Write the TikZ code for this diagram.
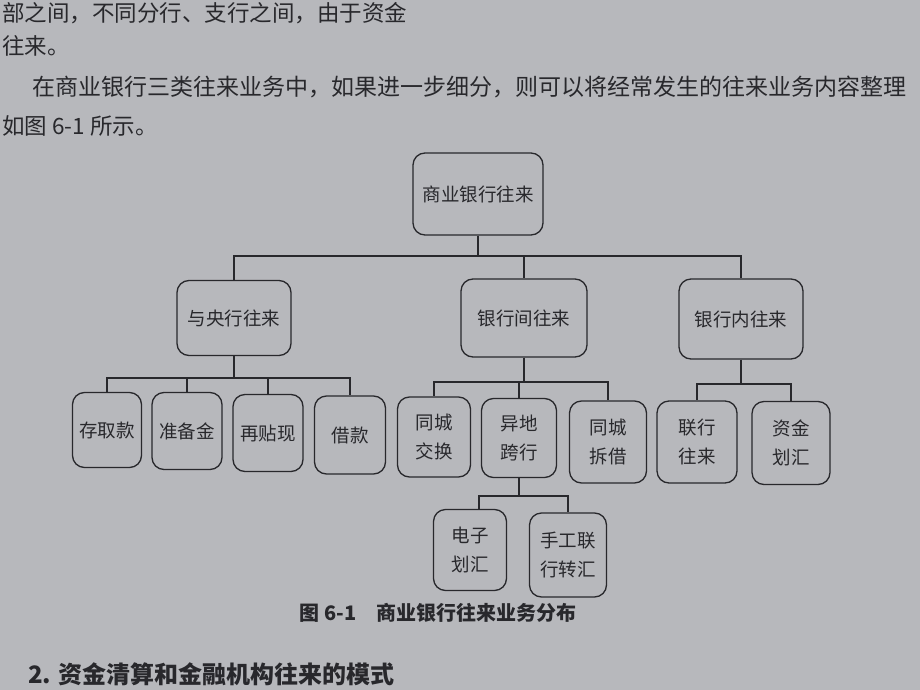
\documentclass[tikz,border=0pt]{standalone}
\usepackage{fontspec}
\setmainfont{Noto Sans CJK SC}
\usetikzlibrary{calc}
\definecolor{papier}{RGB}{183,184,188}
\definecolor{encre}{RGB}{40,40,44}
\tikzstyle{boite} = [rectangle, rounded corners=12pt, draw=encre, line width=1.3pt, text=encre, align=center, inner sep=0pt, font=\fontsize{18.5}{29}\selectfont]
\tikzstyle{moyen} = [boite, minimum width=122pt, minimum height=78pt]
\tikzstyle{petit} = [boite, minimum width=73pt, minimum height=79pt]
\tikzstyle{lien} = [draw=encre, line width=1.3pt]
\tikzstyle{texte} = [anchor=west, text=encre, inner sep=0pt, font=\fontsize{22.5}{22.5}\selectfont]

\begin{document}
\begin{tikzpicture}[x=1pt, y=-1pt]

        \clip (0,0) rectangle (920,690);
        \fill[papier] (0,0) rectangle (920,690);

        % texte de la page
        \node (ligne1) [texte] at (2,13) {部之间，不同分行、支行之间，由于资金};
        \node (ligne2) [texte] at (2,46) {往来。};
        \node (ligne3) [texte, font=\fontsize{23}{23}\selectfont] at (32,87) {在商业银行三类往来业务中，如果进一步细分，则可以将经常发生的往来业务内容整理};
        \node (ligne4) [texte] at (2,126) {如图 6-1 所示。};

        % arbre
        \node (racine) [moyen, minimum width=130pt, minimum height=82pt] at (478,194) {商业银行往来};

        \node (central) [moyen, minimum width=114pt, minimum height=75pt] at (234,318) {与央行往来};
        \node (inter) [moyen, minimum width=126pt] at (524,318) {银行间往来};
        \node (intra) [moyen, minimum width=124pt, minimum height=80pt] at (741,319) {银行内往来};

        \node (depot) [petit, minimum width=69pt, minimum height=75pt] at (107,430) {存取款};
        \node (reserve) [petit, minimum width=70pt, minimum height=77pt] at (187,431) {准备金};
        \node (escompte) [petit, minimum width=70pt, minimum height=77pt] at (268,433) {再贴现};
        \node (pret) [petit, minimum width=71pt, minimum height=78pt] at (350,435) {借款};

        \node (echange) [petit, minimum height=80pt] at (434,437) {同城\\交换};
        \node (distance) [petit, minimum width=75pt] at (519,438) {异地\\跨行};
        \node (emprunt) [petit, minimum width=77pt, minimum height=82pt] at (608,442) {同城\\拆借};

        \node (liaison) [petit, minimum width=80pt, minimum height=82pt] at (697,442) {联行\\往来};
        \node (fonds) [petit, minimum width=78pt, minimum height=83pt] at (791,443) {资金\\划汇};

        \node (electro) [petit, minimum height=81pt] at (470,550) {电子\\划汇};
        \node (manuel) [petit, minimum width=77pt, minimum height=84pt] at (568,555) {手工联\\行转汇};

        \coordinate (j0) at (478,256);
        \coordinate (j1) at (234,378);
        \coordinate (j2) at (524,382);
        \coordinate (j3) at (741,384);
        \coordinate (j4) at (519,496);

        \draw[lien] (racine) -- (j0);
        \draw[lien] (j0) -| (central.north);
        \draw[lien] (j0) -| (inter.north);
        \draw[lien] (j0) -| (intra.north);

        \draw[lien] (central) -- (j1);
        \draw[lien] (j1) -| (depot.north);
        \draw[lien] (j1) -| (reserve.north);
        \draw[lien] (j1) -| (escompte.north);
        \draw[lien] (j1) -| (pret.north);

        \draw[lien] (inter) -- (j2);
        \draw[lien] (j2) -| (echange.north);
        \draw[lien] (j2) -| (distance.north);
        \draw[lien] (j2) -| (emprunt.north);

        \draw[lien] (intra) -- (j3);
        \draw[lien] (j3) -| (liaison.north);
        \draw[lien] (j3) -| (fonds.north);

        \draw[lien] (distance) -- (j4);
        \draw[lien] (j4) -| ([xshift=9pt]electro.north);
        \draw[lien] (j4) -| (manuel.north);

        \node (legende) [text=encre, font=\fontsize{20}{20}\selectfont\bfseries] at (438,613) {图 6-1\quad 商业银行往来业务分布};

        \node (titre) [texte, font=\fontsize{24}{24}\selectfont\bfseries] at (28,674) {2. 资金清算和金融机构往来的模式};

    \end{tikzpicture}
\end{document}
